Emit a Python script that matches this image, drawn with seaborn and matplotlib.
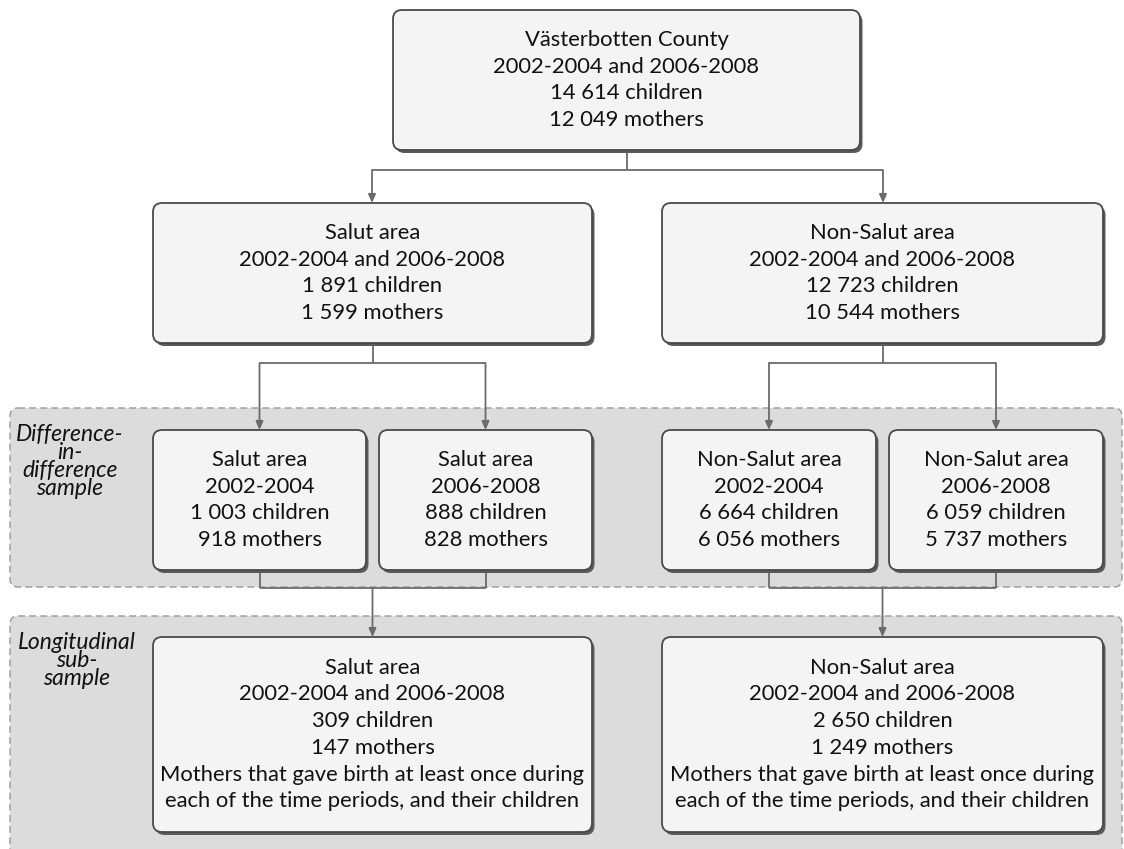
import matplotlib
matplotlib.use("Agg")
import matplotlib.pyplot as plt
from matplotlib.patches import FancyBboxPatch
import seaborn as sns

# node texts
top_text = ["Västerbotten County", "2002-2004 and 2006-2008", "14 614 children", "12 049 mothers"]
area_texts = [
    ["Salut area", "2002-2004 and 2006-2008", "1 891 children", "1 599 mothers"],
    ["Non-Salut area", "2002-2004 and 2006-2008", "12 723 children", "10 544 mothers"],
]
did_texts = [
    ["Salut area", "2002-2004", "1 003 children", "918 mothers"],
    ["Salut area", "2006-2008", "888 children", "828 mothers"],
    ["Non-Salut area", "2002-2004", "6 664 children", "6 056 mothers"],
    ["Non-Salut area", "2006-2008", "6 059 children", "5 737 mothers"],
]
long_texts = [
    ["Salut area", "2002-2004 and 2006-2008", "309 children", "147 mothers",
     "Mothers that gave birth at least once during", "each of the time periods, and their children"],
    ["Non-Salut area", "2002-2004 and 2006-2008", "2 650 children", "1 249 mothers",
     "Mothers that gave birth at least once during", "each of the time periods, and their children"],
]
band_labels = ["Difference-\nin-\ndifference\nsample", "Longitudinal\nsub-\nsample"]

sns.set_style("white")
plt.rcParams["font.family"] = ["Lato", "DejaVu Sans"]

fig = plt.figure(figsize=(11.24, 8.49), dpi=100)
ax = fig.add_axes([0, 0, 1, 1])
ax.set_xlim(0, 1124)
ax.set_ylim(849, 0)
ax.axis("off")

LINE = "#6b6b6b"
FS = 15.8


def band(x0, y0, x1, y1):
    p = FancyBboxPatch((x0, y0), x1 - x0, y1 - y0,
                       boxstyle="round,pad=0,rounding_size=8",
                       fc="#dcdcdc", ec="#999999", lw=1.0, ls=(0, (5, 3)), zorder=0)
    ax.add_patch(p)


def node(x0, y0, x1, y1, lines):
    sh = FancyBboxPatch((x0 + 2.5, y0 + 3), x1 - x0, y1 - y0,
                        boxstyle="round,pad=0,rounding_size=9",
                        fc="#5a5a5a", ec="none", zorder=2)
    ax.add_patch(sh)
    p = FancyBboxPatch((x0, y0), x1 - x0, y1 - y0,
                       boxstyle="round,pad=0,rounding_size=9",
                       fc="#f4f4f4", ec="#4a4a4a", lw=1.3, zorder=3)
    ax.add_patch(p)
    ax.text((x0 + x1) / 2, (y0 + y1) / 2, "\n".join(lines), ha="center", va="center",
            fontsize=FS, linespacing=1.42, color="#111111", zorder=4)


def seg(xs, ys):
    ax.plot(xs, ys, color=LINE, lw=1.3, zorder=1, solid_capstyle="butt")


def arrow(x, y0, y1):
    ax.annotate("", xy=(x, y1), xytext=(x, y0),
                arrowprops=dict(arrowstyle="-|>,head_length=0.5,head_width=0.22",
                                color=LINE, lw=1.3, shrinkA=0, shrinkB=0), zorder=5)


# background bands
band(10, 408, 1122, 587)
band(10, 616, 1122, 860)
ax.text(70, 424, band_labels[0], ha="center", va="top", fontsize=16.5, style="italic",
        linespacing=0.82, color="#111111")
ax.text(77, 632, band_labels[1], ha="center", va="top", fontsize=16.5, style="italic",
        linespacing=0.82, color="#111111")

# boxes
node(393, 10, 860, 150, top_text)
mid = [(153, 592), (662, 1103)]
for (a, b), t in zip(mid, area_texts):
    node(a, 203, b, 343, t)
did = [(153, 366), (379, 592), (662, 876), (889, 1103)]
for (a, b), t in zip(did, did_texts):
    node(a, 430, b, 570, t)
for (a, b), t in zip(mid, long_texts):
    node(a, 637, b, 832, t)

# connectors top -> areas
seg([627, 627], [150, 170])
seg([372, 883], [170, 170])
arrow(372, 170, 203)
arrow(883, 170, 203)

# areas -> periods, periods -> longitudinal
for (a, b), pair in zip(mid, [did[:2], did[2:]]):
    c = (a + b) / 2
    l = (pair[0][0] + pair[0][1]) / 2
    r = (pair[1][0] + pair[1][1]) / 2
    seg([c, c], [343, 363])
    seg([l, r], [363, 363])
    arrow(l, 363, 430)
    arrow(r, 363, 430)
    seg([l, l], [570, 588])
    seg([r, r], [570, 588])
    seg([l, r], [588, 588])
    arrow(c, 588, 637)

fig.savefig("out.png", dpi=100)
